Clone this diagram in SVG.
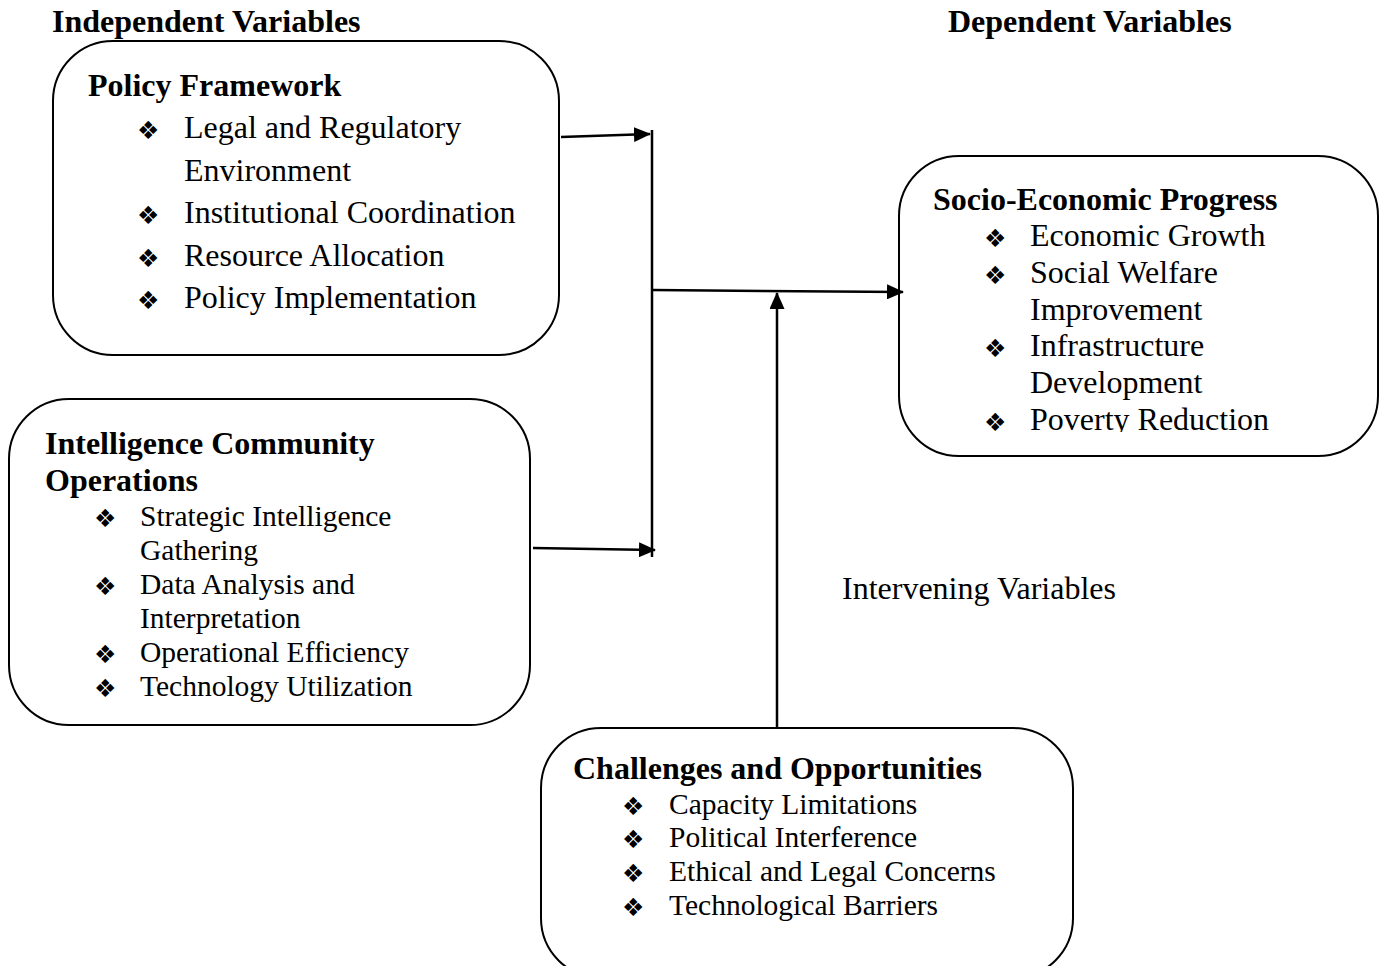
<svg xmlns="http://www.w3.org/2000/svg" width="1384" height="966" viewBox="0 0 1384 966">
<style>
.box{fill:#fff;stroke:#000;stroke-width:2}
.h{font-family:"Liberation Serif",serif;font-weight:bold;font-size:32px;fill:#000}
.t{font-family:"Liberation Serif",serif;font-size:32px;fill:#000}
.s{font-family:"Liberation Serif",serif;font-size:29.5px;fill:#000}
.b{font-family:"DejaVu Sans",sans-serif;font-size:25px;fill:#000}
.c{stroke:#000;stroke-width:2.5;fill:none}
</style>
<defs>
<marker id="ah" markerWidth="17" markerHeight="15" refX="16" refY="7.5" orient="auto" markerUnits="userSpaceOnUse">
<path d="M0,0 L17,7.5 L0,15 Z" fill="#000"/>
</marker>
<clipPath id="clipSocio"><rect x="899" y="156" width="480" height="276"/></clipPath>
</defs>
<rect width="1384" height="966" fill="#fff"/>
<text class="h" x="52" y="32">Independent Variables</text>
<text class="h" x="948" y="32">Dependent Variables</text>

<g id="policy">
<rect class="box" x="53" y="41" width="506" height="314" rx="60"/>
<text class="h" x="88" y="96">Policy Framework</text>
<text class="b" x="137" y="139">❖</text><text class="t" x="184" y="138">Legal and Regulatory</text>
<text class="t" x="184" y="181">Environment</text>
<text class="b" x="137" y="224">❖</text><text class="t" x="184" y="223">Institutional Coordination</text>
<text class="b" x="137" y="267">❖</text><text class="t" x="184" y="266">Resource Allocation</text>
<text class="b" x="137" y="309">❖</text><text class="t" x="184" y="308">Policy Implementation</text>
</g>

<g id="intelligence">
<rect class="box" x="9" y="399" width="521" height="326" rx="60"/>
<text class="h" x="45" y="454">Intelligence Community</text>
<text class="h" x="45" y="491">Operations</text>
<text class="b" x="94" y="527">❖</text><text class="s" x="140" y="526">Strategic Intelligence</text>
<text class="s" x="140" y="560">Gathering</text>
<text class="b" x="94" y="595">❖</text><text class="s" x="140" y="594">Data Analysis and</text>
<text class="s" x="140" y="628">Interpretation</text>
<text class="b" x="94" y="663">❖</text><text class="s" x="140" y="662">Operational Efficiency</text>
<text class="b" x="94" y="697">❖</text><text class="s" x="140" y="696">Technology Utilization</text>
</g>

<g id="socio">
<rect class="box" x="899" y="156" width="479" height="300" rx="60"/>
<text class="h" x="933" y="210">Socio-Economic Progress</text>
<g clip-path="url(#clipSocio)">
<text class="b" x="984" y="247">❖</text><text class="t" x="1030" y="246">Economic Growth</text>
<text class="b" x="984" y="284">❖</text><text class="t" x="1030" y="283">Social Welfare</text>
<text class="t" x="1030" y="320">Improvement</text>
<text class="b" x="984" y="357">❖</text><text class="t" x="1030" y="356">Infrastructure</text>
<text class="t" x="1030" y="393">Development</text>
<text class="b" x="984" y="431">❖</text><text class="t" x="1030" y="430">Poverty Reduction</text>
</g>
</g>

<g id="challenges">
<rect class="box" x="541" y="728" width="532" height="250" rx="60"/>
<text class="h" x="573" y="779">Challenges and Opportunities</text>
<text class="b" x="622" y="815">❖</text><text class="s" x="669" y="814">Capacity Limitations</text>
<text class="b" x="622" y="848">❖</text><text class="s" x="669" y="847">Political Interference</text>
<text class="b" x="622" y="882">❖</text><text class="s" x="669" y="881">Ethical and Legal Concerns</text>
<text class="b" x="622" y="916">❖</text><text class="s" x="669" y="915">Technological Barriers</text>
</g>

<g id="intervening">
<text class="t" x="842" y="599">Intervening Variables</text>
</g>

<g id="connectors">
<line class="c" x1="561" y1="137" x2="650" y2="134" marker-end="url(#ah)"/>
<line class="c" x1="652" y1="130" x2="652" y2="557"/>
<line class="c" x1="533" y1="548" x2="655" y2="550" marker-end="url(#ah)"/>
<line class="c" x1="652" y1="290" x2="903" y2="292" marker-end="url(#ah)"/>
<line class="c" x1="777" y1="727" x2="777" y2="293" marker-end="url(#ah)"/>
</g>
</svg>
